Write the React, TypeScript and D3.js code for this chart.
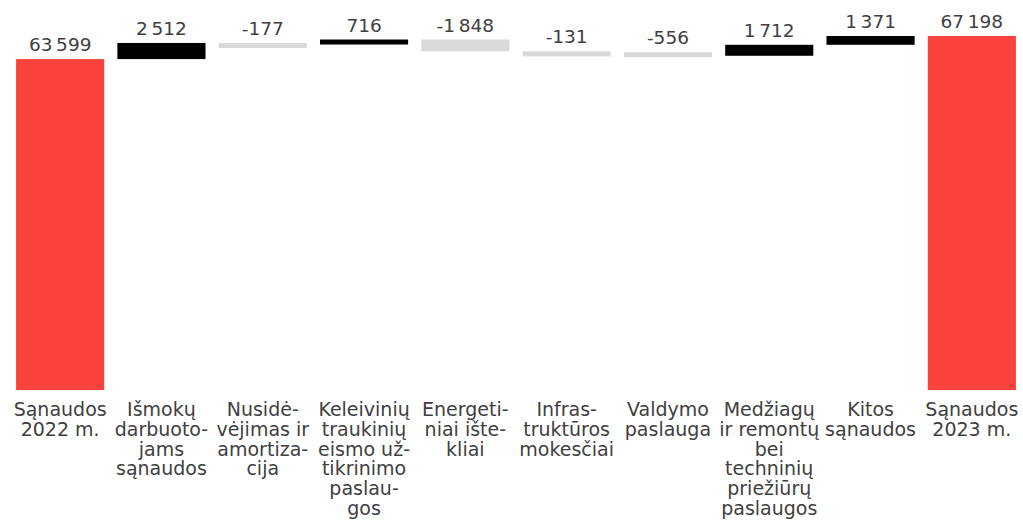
import React from "react";
import * as d3 from "d3";

const categories: string[][] = [
  ["Sąnaudos", "2022 m."],
  ["Išmokų", "darbuoto-", "jams", "sąnaudos"],
  ["Nusidė-", "vėjimas ir", "amortiza-", "cija"],
  ["Keleivinių", "traukinių", "eismo už-", "tikrinimo", "paslau-", "gos"],
  ["Energeti-", "niai ište-", "kliai"],
  ["Infras-", "truktūros", "mokesčiai"],
  ["Valdymo", "paslauga"],
  ["Medžiagų", "ir remontų", "bei", "techninių", "priežiūrų", "paslaugos"],
  ["Kitos", "sąnaudos"],
  ["Sąnaudos", "2023 m."],
];
const values: number[] = [63599, 2512, -177, 716, -1848, -131, -556, 1712, 1371, 67198];
const kinds: string[] = ["total", "delta", "delta", "delta", "delta", "delta", "delta", "delta", "delta", "total"];
const yDomain: number[] = [12000, 67198];

const W = 1023;
const H = 525;
const FONT = "'DejaVu Sans', sans-serif";
const TEXT = "#404040";
const RED = "#fa423c";
const POS = "#000000";
const NEG = "#d9d9d9";
const MIN_H = 5;

const locale = d3.formatLocale({
  decimal: ",",
  thousands: "\u2009",
  grouping: [3],
  currency: ["", ""],
  minus: "-",
});
const fmt = locale.format(",d");

export default function App() {
  const x = d3
    .scaleBand<number>()
    .domain(values.map((_, i) => i))
    .range([9.5, 1022.5])
    .paddingInner(0.13)
    .paddingOuter(0.065);
  const y = d3.scaleLinear().domain(yDomain).range([390, 36]);

  let running = 0;
  const bars = values.map((v, i) => {
    let start: number, end: number;
    if (kinds[i] === "total") {
      start = yDomain[0];
      end = v;
      running = v;
    } else {
      start = running;
      end = running + v;
      running = end;
    }
    const top = y(Math.max(start, end));
    const h = Math.max(Math.abs(y(start) - y(end)), MIN_H);
    const color = kinds[i] === "total" ? RED : v >= 0 ? POS : NEG;
    return { i, v, top, h, color };
  });

  return (
    <svg
      width={W}
      height={H}
      style={{ position: "absolute", left: 0, top: 0, background: "#fff" }}
      fontFamily={FONT}
    >
      {bars.map((b) => (
        <g key={b.i}>
          <rect x={x(b.i)} y={b.top} width={x.bandwidth()} height={b.h} fill={b.color} />
          <text
            x={(x(b.i) as number) + x.bandwidth() / 2}
            y={b.top - 8}
            textAnchor="middle"
            fontSize={18.5}
            fill={TEXT}
          >
            {fmt(b.v)}
          </text>
        </g>
      ))}
      {categories.map((lines, i) => (
        <text
          key={"c" + i}
          x={(x(i) as number) + x.bandwidth() / 2}
          y={y(yDomain[0]) + 26}
          textAnchor="middle"
          fontSize={19}
          fill={TEXT}
        >
          {lines.map((l, j) => (
            <tspan key={j} x={(x(i) as number) + x.bandwidth() / 2} dy={j === 0 ? 0 : 19.8}>
              {l}
            </tspan>
          ))}
        </text>
      ))}
    </svg>
  );
}
